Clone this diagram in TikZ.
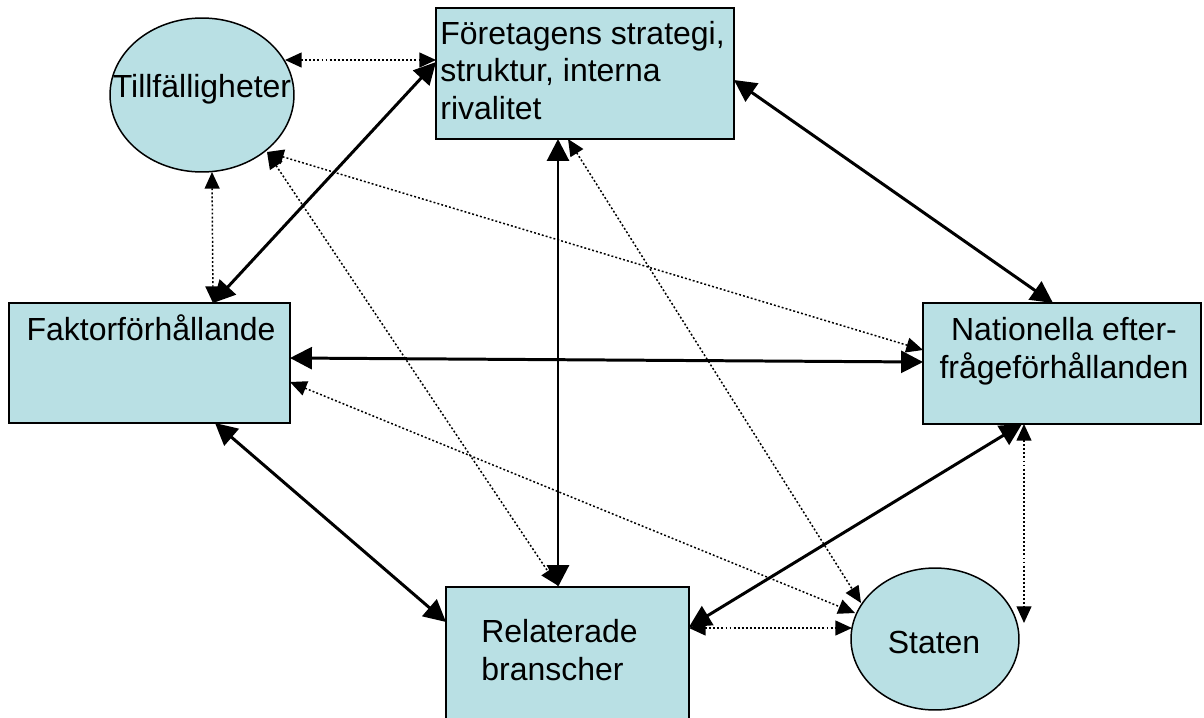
\documentclass[tikz,border=0pt]{standalone}
\usepackage{fontspec}
\setmainfont{Liberation Sans}
\usetikzlibrary{arrows.meta,calc,shapes.geometric}
\definecolor{boxfill}{RGB}{185,224,228}
\begin{document}
\begin{tikzpicture}[x=0.02cm,y=-0.02cm,
  shapebox/.style={draw=black,line width=0.85pt,fill=boxfill,rectangle,outer sep=0pt,inner sep=0pt},
  oval/.style={draw=black,line width=0.85pt,fill=boxfill,ellipse,outer sep=0pt,inner sep=0pt},
  txt/.style={inner sep=0pt,font=\fontsize{18.2}{21.4}\selectfont},
  solidlink/.style={line width=1.7pt,{Triangle[length=12.5pt,width=12.5pt]}-{Triangle[length=12.5pt,width=12.5pt]}},
  dotlink/.style={line width=0.85pt,dash pattern=on 1.1pt off 1.2pt,{Triangle[length=9.5pt,width=8.5pt]}-{Triangle[length=9.5pt,width=8.5pt]}}]
\useasboundingbox (0,0) rectangle (1204,717);
\clip (0,0) rectangle (1204,717);
% shapes
\node[shapebox,minimum width=5.96cm,minimum height=2.62cm] (fore) at (585,73.5) {};
\node[shapebox,minimum width=5.62cm,minimum height=2.4cm] (faktor) at (149.5,363) {};
\node[shapebox,minimum width=5.56cm,minimum height=2.42cm] (nat) at (1062,363.5) {};
\node[shapebox,minimum width=4.86cm,minimum height=2.86cm] (rel) at (567.5,658.5) {};
\node[oval,minimum width=3.68cm,minimum height=3.08cm] (till) at (202,95) {};
\node[oval,minimum width=3.36cm,minimum height=2.84cm] (staten) at (935,639) {};
% solid connectors
\draw[solidlink] ($(fore.west)+(0,-11.5)$) -- ($(faktor.north)+(63.5,0)$);
\draw[solidlink] ($(fore.east)+(0,6.5)$) -- ($(nat.north)+(-9,0)$);
\draw[solidlink] ($(fore.south)+(-27,0)$) -- ($(rel.north)+(-9.5,0)$);
\draw[solidlink] ($(faktor.east)+(0,-5)$) -- ($(nat.west)+(0,-1.5)$);
\draw[solidlink] ($(faktor.south)+(65.5,0)$) -- ($(rel.west)+(0,-36.5)$);
\draw[solidlink] ($(nat.south)+(-40,0)$) -- ($(rel.east)+(0,-31.5)$);
% dotted connectors
\draw[dotlink] ($(till.center)+(83,-35)$) -- ($(fore.west)+(0,-13.5)$);
\draw[dotlink] ($(till.south)+(10,0)$) -- ($(faktor.north)+(63.5,0)$);
\draw[dotlink] ($(till.center)+(65,57)$) -- ($(nat.west)+(0,-13.5)$);
\draw[dotlink] ($(till.center)+(65,57)$) -- ($(rel.north)+(-10.5,-2)$);
\draw[dotlink] ($(fore.south)+(-17,0)$) -- ($(staten.center)+(-74,-36)$);
\draw[dotlink] ($(faktor.east)+(0,19)$) -- ($(staten.center)+(-80,-26)$);
\draw[dotlink] ($(rel.east)+(0,-30.5)$) -- ($(staten.center)+(-83,-11)$);
\draw[dotlink] ($(nat.south)+(-38,0)$) -- ($(staten.center)+(89,-16)$);
% texts (base anchor = baseline of last line)
\node[txt,anchor=base west,align=left] (foreT) at (440,119.5) {Företagens strategi,\\struktur, interna\\rivalitet};
\node[txt,anchor=base] (faktorT) at (151,340) {Faktorförhållande};
\node[txt,anchor=base,align=center] (natT) at (1064,378) {Nationella efter-\\frågeförhållanden};
\node[txt,anchor=base west,align=left] (relT) at (481,680) {Relaterade\\branscher};
\node[txt,anchor=base] (tillT) at (202,97) {Tillfälligheter};
\node[txt,anchor=base] (statenT) at (934,653) {Staten};
\end{tikzpicture}
\end{document}
